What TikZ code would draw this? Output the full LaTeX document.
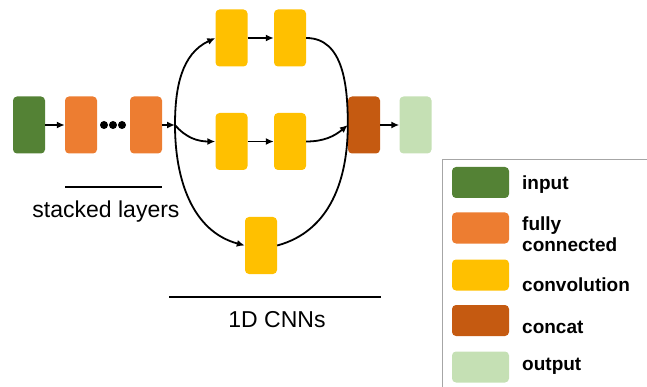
\documentclass[tikz,border=0pt]{standalone}
\usepackage{fontspec}
\setmainfont{Liberation Sans}
\usetikzlibrary{arrows.meta}

\definecolor{inputgreen}{HTML}{548235}
\definecolor{fcorange}{HTML}{ED7D31}
\definecolor{convyellow}{HTML}{FFC000}
\definecolor{concatbrown}{HTML}{C55A11}
\definecolor{outputgreen}{HTML}{C5E0B4}

\begin{document}
\begin{tikzpicture}[
		x=1pt, y=-1pt,
		arrow/.style={-{Latex[length=8pt, width=7pt]}, line width=1.8pt},
		link/.style={line width=1.8pt},
		layer/.style={rounded corners=4pt, minimum width=32pt, minimum height=57pt, inner sep=0pt},
		swatch/.style={rounded corners=4pt, minimum width=57pt, minimum height=31pt, inner sep=0pt},
		legtext/.style={anchor=west, font=\fontsize{19}{21}\selectfont\bfseries, align=left, inner sep=0pt},
		caption/.style={font=\fontsize{23}{25}\selectfont},
	]
		\useasboundingbox (0,0) rectangle (647,387);
		
		% stacked layers
		\node at (29,125) (in) [layer, fill=inputgreen] {};
		\node at (81,125) (fc1) [layer, fill=fcorange] {};
		\node at (146,125) (fc2) [layer, fill=fcorange] {};
		\foreach \x in {104,113,122}
			\fill (\x,125) circle (4);
		\draw[arrow] (in) -- (fc1);
		\draw[link] (65,187) -- (162,187);
		\node at (106,212) (stk) [caption] {stacked layers};
		
		% 1D CNNs
		\coordinate (split) at (175,125);
		\node at (231.5,38) (ct1) [layer, fill=convyellow] {};
		\node at (290,38) (ct2) [layer, fill=convyellow] {};
		\node at (231.5,141.5) (cm1) [layer, fill=convyellow] {};
		\node at (290,141.5) (cm2) [layer, fill=convyellow] {};
		\node at (261,245.5) (cb) [layer, fill=convyellow] {};
		\draw[arrow] (fc2) -- (split);
		\draw[arrow] (split) to[out=90, in=205] (ct1.west);
		\draw[arrow] (split) to[out=-50, in=180] (cm1.west);
		\draw[arrow] (split) to[out=-90, in=165] (cb.west);
		\draw[arrow] (ct1) -- (ct2);
		\draw[arrow] (cm1) -- (cm2);
		\draw[link] (169,297) -- (381,297);
		\node at (277,320) (cnn) [caption] {1D CNNs};
		
		% concat and output
		\node at (364,125) (cat) [layer, fill=concatbrown] {};
		\node at (415.5,125) (out) [layer, fill=outputgreen] {};
		\draw[link] (ct2.east) to[out=0, in=90] (cat.west);
		\draw[link] (cb.east) to[out=15, in=-90] (cat.west);
		\draw[arrow] (cm2.east) to[out=0, in=-140] (cat.west);
		\draw[arrow] (cat) -- (out);
		
		% legend
		\draw[gray!70, line width=0.8pt] (442,400) -- (442,159) -- (660,159);
		\node at (480.5,182.5) (lin) [swatch, fill=inputgreen] {};
		\node at (480.5,228) (lfc) [swatch, fill=fcorange] {};
		\node at (480.5,275) (lconv) [swatch, fill=convyellow] {};
		\node at (480.5,320.5) (lcat) [swatch, fill=concatbrown] {};
		\node at (480.5,367) (lout) [swatch, fill=outputgreen] {};
		\node at (522,185) (tin) [legtext] {input};
		\node at (522,234) (tfc) [legtext] {fully\\connected};
		\node at (522,285) (tconv) [legtext] {convolution};
		\node at (522,327) (tcat) [legtext] {concat};
		\node at (522,366) (tout) [legtext] {output};
	\end{tikzpicture}
\end{document}
